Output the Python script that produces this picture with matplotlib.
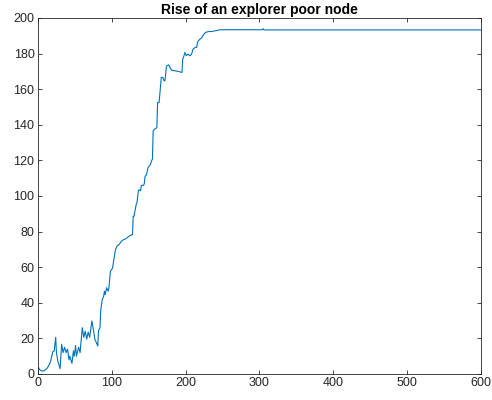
import numpy as np
import matplotlib
matplotlib.use("Agg")
import matplotlib.pyplot as plt

# значения (шаг, степень узла)
steps = [1, 2, 5, 8, 12, 15, 17, 20, 22, 24, 25, 27, 30, 32, 34, 36, 38, 40,
         42, 43, 46, 48, 49, 51, 52, 55, 57, 60, 62, 64, 66, 68, 70, 73, 75,
         77, 80, 81, 82, 84, 85, 87, 89, 90, 91, 93, 95, 96, 98, 101, 103,
         105, 107, 110, 113, 116, 119, 122, 125, 128, 129, 130, 133, 134, 136,
         137, 139, 140, 143, 144, 145, 147, 149, 152, 154, 155, 156, 158, 161,
         162, 164, 165, 167, 169, 171, 172, 174, 177, 179, 181, 186, 190, 195,
         196, 197, 199, 201, 203, 206, 208, 210, 213, 215, 216, 217, 219, 222,
         224, 227, 231, 235, 240, 243, 246, 256, 304, 305, 306, 600]
degree = [3.5, 2.5, 1.7, 1.7, 3, 5, 7, 12.5, 13, 20.6, 12, 7, 3, 16.7, 12, 15,
          12, 14, 8, 10, 6, 13, 10, 16, 10, 15, 12, 26, 20.6, 24, 19.6, 23.5,
          20.6, 29.8, 25, 19.6, 16.7, 15.8, 24.4, 26, 36, 41.7, 43.7, 46.5,
          44.6, 48.5, 46.5, 48, 57.6, 59.5, 65, 69.9, 71.8, 72.8, 74.6, 75.5,
          76, 77, 77.8, 78.3, 88.6, 88.6, 95.2, 96, 103, 103.5, 103, 106, 106,
          107, 111, 112, 116, 117.5, 120, 120.6, 136.6, 137.5, 138.4, 152.5,
          152.5, 157, 166.6, 166.6, 164.7, 164.7, 173, 173.7, 172, 170.7,
          170.3, 170, 169.4, 177, 177.8, 180.6, 178.8, 179.7, 178.8, 179.7,
          182.5, 183.5, 183.5, 186.3, 187, 188, 189, 190.6, 191.9, 192.4,
          192.4, 192.8, 193, 193.4, 193.4, 193.4, 194, 193.3, 193.3]

plt.rcParams['font.family'] = ['Liberation Sans', 'DejaVu Sans']

fig = plt.figure(figsize=(4.92, 4.0), dpi=100)
ax = fig.add_axes([0.0772, 0.065, 0.9004, 0.89])
ax.plot(steps, degree, color='#0072BD', linewidth=0.8)

ax.set_xlim(0, 600)
ax.set_ylim(0, 200)
ax.set_xticks(np.arange(0, 601, 100))
ax.set_yticks(np.arange(0, 201, 20))
ax.tick_params(direction='in', top=True, right=True, labelsize=9,
               length=3, width=0.6, colors='#262626', pad=2.5)
for s in ax.spines.values():
    s.set_linewidth(0.6)
    s.set_color('#262626')
ax.set_title("Rise of an explorer poor node", fontsize=10, fontweight='bold', pad=3)

fig.savefig("out.png", dpi=100)
